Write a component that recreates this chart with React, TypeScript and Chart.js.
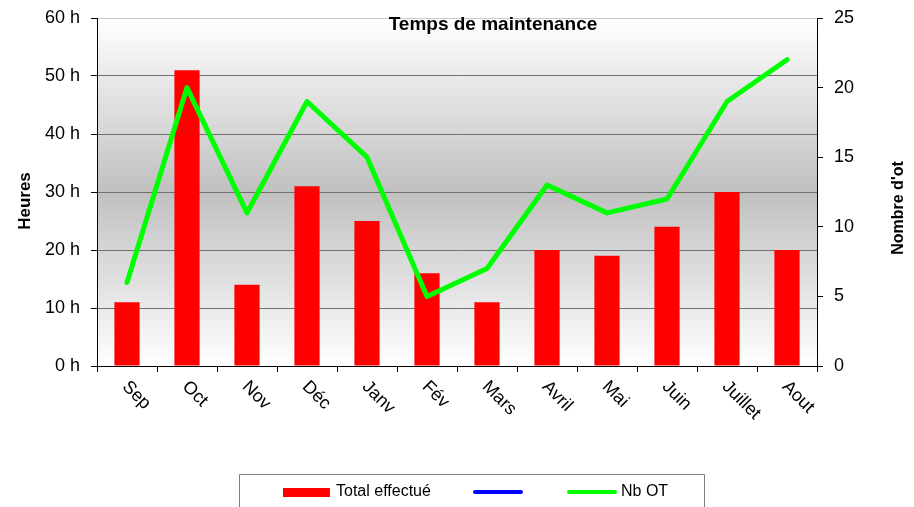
import React, { useEffect, useRef } from "react";
import { Chart, registerables } from "chart.js";

Chart.register(...registerables);

const categories = ["Sep", "Oct", "Nov", "Déc", "Janv", "Fév", "Mars", "Avril", "Mai", "Juin", "Juillet", "Aout"];
const totalEffectue = [11, 51, 14, 31, 25, 16, 11, 20, 19, 24, 30, 20];
const nbOT = [6, 20, 11, 19, 15, 5, 7, 13, 11, 12, 19, 22];
const serieSansNom: number[] = [];

const chartTitle = "Temps de maintenance";
const leftTitle = "Heures";
const rightTitle = "Nombre d'ot";
const legendLabels = ["Total effectué", "", "Nb OT"];

const FONT = "'Liberation Sans', Arial, sans-serif";

const bgPlugin = {
  id: "bgGradient",
  beforeDraw(chart: any) {
    const { ctx, chartArea } = chart;
    const { left, top, right, bottom } = chartArea;
    const g = ctx.createLinearGradient(0, top, 0, bottom);
    g.addColorStop(0, "#ffffff");
    g.addColorStop(0.5, "#c0c0c0");
    g.addColorStop(1, "#ffffff");
    ctx.save();
    ctx.fillStyle = g;
    ctx.fillRect(left, top, right - left, bottom - top);
    ctx.restore();
  },
};

const overlayPlugin = {
  id: "overlay",
  afterDraw(chart: any) {
    const { ctx, chartArea } = chart;
    const xScale = chart.scales.x;
    ctx.save();
    ctx.fillStyle = "#000";

    // title
    ctx.font = `bold 19px ${FONT}`;
    ctx.textAlign = "center";
    ctx.textBaseline = "middle";
    ctx.fillText(chartTitle, chartArea.left + (chartArea.right - chartArea.left) * 0.55, chartArea.top + 7);

    // axis titles
    ctx.font = `bold 17px ${FONT}`;
    ctx.save();
    ctx.translate(25, 201);
    ctx.rotate(-Math.PI / 2);
    ctx.fillText(leftTitle, 0, 0);
    ctx.restore();
    ctx.font = `bold 16px ${FONT}`;
    ctx.save();
    ctx.translate(899, 208);
    ctx.rotate(-Math.PI / 2);
    ctx.fillText(rightTitle, 0, 0);
    ctx.restore();

    // x labels rotated
    ctx.font = `18px ${FONT}`;
    ctx.textAlign = "left";
    ctx.textBaseline = "middle";
    categories.forEach((c, i) => {
      const x = xScale.getPixelForValue(i);
      ctx.save();
      ctx.translate(x - 2, chartArea.bottom + 18);
      ctx.rotate(Math.PI / 4);
      ctx.fillText(c, 0, 0);
      ctx.restore();
    });

    // legend
    ctx.strokeStyle = "#808080";
    ctx.lineWidth = 1;
    ctx.beginPath();
    ctx.moveTo(239.5, 510);
    ctx.lineTo(239.5, 474.5);
    ctx.lineTo(704.5, 474.5);
    ctx.lineTo(704.5, 510);
    ctx.stroke();

    const ly = 492;
    ctx.fillStyle = "#ff0000";
    ctx.fillRect(283, 488, 47, 9);
    ctx.lineCap = "round";
    ctx.lineWidth = 4;
    ctx.strokeStyle = "#0000ff";
    ctx.beginPath();
    ctx.moveTo(475, ly);
    ctx.lineTo(521, ly);
    ctx.stroke();
    ctx.strokeStyle = "#00ff00";
    ctx.beginPath();
    ctx.moveTo(569, ly);
    ctx.lineTo(615, ly);
    ctx.stroke();

    ctx.fillStyle = "#000";
    ctx.font = `16px ${FONT}`;
    ctx.textAlign = "left";
    ctx.textBaseline = "middle";
    ctx.fillText(legendLabels[0], 336, ly);
    ctx.fillText(legendLabels[2], 621, ly);
    ctx.restore();
  },
};

export default function App() {
  const ref = useRef<HTMLCanvasElement | null>(null);
  useEffect(() => {
    document.body.style.margin = "0";
    if (!ref.current) return;
    const chart = new Chart(ref.current, {
      type: "bar",
      data: {
        labels: categories,
        datasets: [
          {
            type: "line",
            label: legendLabels[2],
            data: nbOT,
            yAxisID: "y1",
            borderColor: "#00ff00",
            backgroundColor: "#00ff00",
            borderWidth: 5,
            pointRadius: 0,
            tension: 0,
            borderJoinStyle: "round",
            borderCapStyle: "round",
            order: 0,
          } as any,
          {
            type: "line",
            label: legendLabels[1],
            data: serieSansNom,
            yAxisID: "y1",
            borderColor: "#0000ff",
            borderWidth: 4,
            pointRadius: 0,
            order: 1,
          } as any,
          {
            type: "bar",
            label: legendLabels[0],
            data: totalEffectue,
            yAxisID: "y",
            backgroundColor: "#ff0000",
            borderWidth: 0,
            barPercentage: 0.42,
            categoryPercentage: 1,
            order: 2,
          } as any,
        ],
      },
      options: {
        responsive: false,
        animation: false,
        layout: { padding: { top: 18, left: 0, right: 0, bottom: 0 } },
        plugins: {
          legend: { display: false },
          title: { display: false },
          tooltip: { enabled: false },
        },
        scales: {
          x: {
            offset: true,
            grid: {
              offset: true,
              drawOnChartArea: false,
              drawTicks: true,
              tickLength: 6,
              tickColor: "#000",
            },
            border: { color: "#000", width: 1 },
            ticks: { display: false },
            afterFit(scale: any) {
              scale.height = 141;
              scale.paddingLeft = 0;
              scale.paddingRight = 0;
            },
          },
          y: {
            position: "left",
            min: 0,
            max: 60,
            ticks: {
              stepSize: 10,
              color: "#000",
              padding: 11,
              font: { family: FONT, size: 18 },
              callback: (v: any) => `${v} h`,
            },
            grid: {
              color: (c: any) => (c.tick && c.tick.value === 60 ? "#c8c8c8" : "#707070"),
              tickColor: "#000",
              tickLength: 6,
            },
            border: { color: "#000", width: 1 },
            afterFit(scale: any) {
              scale.width = 97;
              scale.paddingTop = 0;
              scale.paddingBottom = 0;
            },
          },
          y1: {
            position: "right",
            min: 0,
            max: 25,
            ticks: {
              stepSize: 5,
              color: "#000",
              padding: 11,
              font: { family: FONT, size: 18 },
            },
            grid: {
              drawOnChartArea: false,
              tickColor: "#000",
              tickLength: 6,
            },
            border: { color: "#000", width: 1 },
            afterFit(scale: any) {
              scale.width = 97;
              scale.paddingTop = 0;
              scale.paddingBottom = 0;
            },
          },
        },
      },
      plugins: [bgPlugin, overlayPlugin],
    });
    return () => chart.destroy();
  }, []);
  return (
    <div style={{ width: 914, height: 507 }}>
      <canvas ref={ref} width={914} height={507} style={{ display: "block" }} />
    </div>
  );
}
